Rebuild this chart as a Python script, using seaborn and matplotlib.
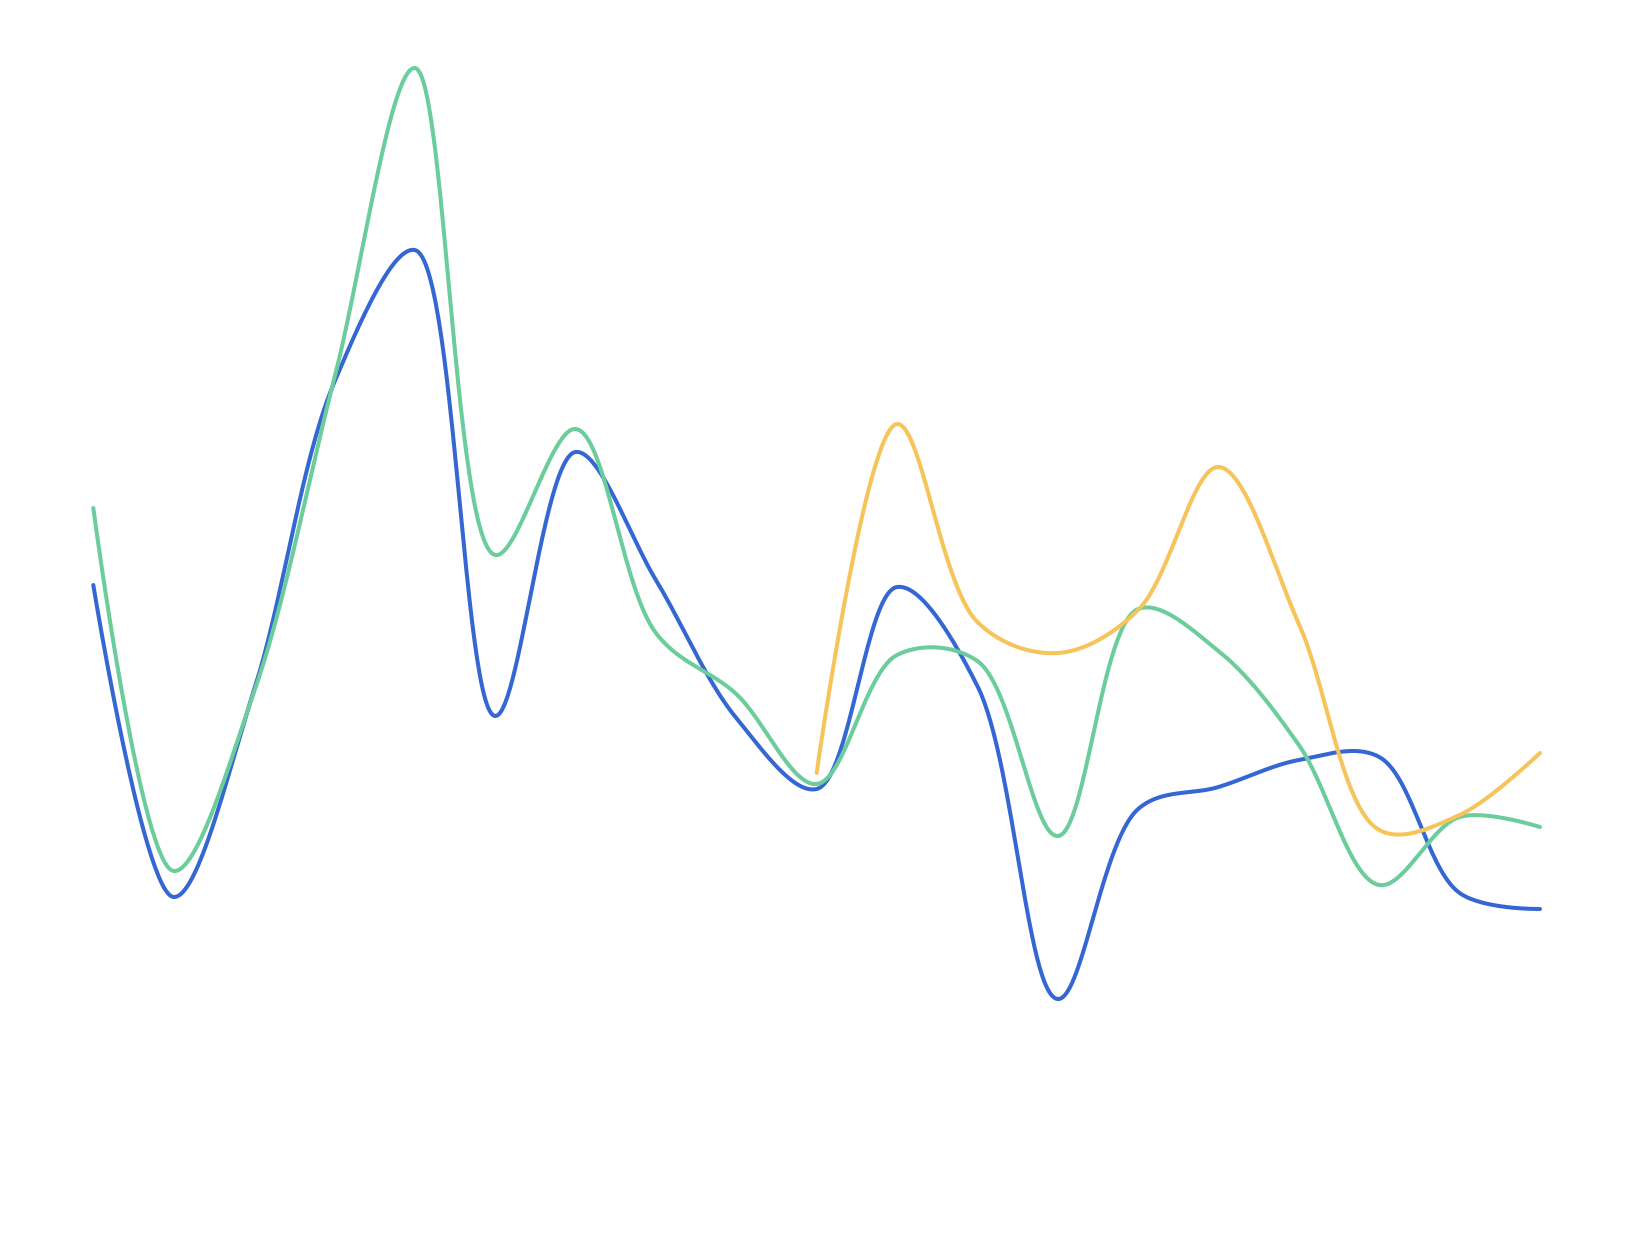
import numpy as np
import pandas as pd
import matplotlib
matplotlib.use('Agg')
import matplotlib.pyplot as plt
import seaborn as sns

# ==========================================
# DATA
# ==========================================
x_idx = list(range(19))

blue_vals = [67.0, 35.8, 56.5, 87.3, 100.5, 53.9, 80.3, 67.5, 53.7, 46.6,
             66.8, 56.9, 25.6, 44.6, 46.8, 49.5, 49.8, 36.2, 34.6]
green_vals = [74.7, 38.4, 56.3, 87.7, 118.7, 70.0, 82.6, 62.2, 56.1, 47.1,
              60.0, 59.4, 41.9, 64.6, 60.4, 51.0, 37.0, 43.8, 42.8]
orange_vals = [None] * 9 + [48.2, 83.1, 63.3, 60.2, 64.5, 78.8, 63.1, 42.5, 44.0, 50.2]

series = [
    ('Series A', blue_vals, '#3567d3'),
    ('Series B', green_vals, '#6acd9b'),
    ('Series C', orange_vals, '#f6c45a'),
]

# ==========================================
# SMOOTH CURVE (centripetal Catmull-Rom, in pixel space)
# ==========================================
def catmull_rom(px, py, alpha=0.5, n_samp=60):
    pts = np.column_stack([px, py])
    n = len(pts)
    t = np.linspace(0, 1, n_samp)[1:, None]
    out = [pts[:1]]
    for i in range(n - 1):
        p1, p2 = pts[i], pts[i + 1]
        l12 = np.hypot(*(p2 - p1))
        l12_2a = l12 ** (2 * alpha)
        l12_a = np.sqrt(l12_2a)
        c1 = p1.copy()
        if i > 0:
            p0 = pts[i - 1]
            l01_2a = np.hypot(*(p1 - p0)) ** (2 * alpha)
            l01_a = np.sqrt(l01_2a)
            a = 2 * l01_2a + 3 * l01_a * l12_a + l12_2a
            nn = 3 * l01_a * (l01_a + l12_a)
            c1 = (p1 * a - p0 * l12_2a + p2 * l01_2a) / nn
        c2 = p2.copy()
        if i < n - 2:
            p3 = pts[i + 2]
            l23_2a = np.hypot(*(p3 - p2)) ** (2 * alpha)
            l23_a = np.sqrt(l23_2a)
            b = 2 * l23_2a + 3 * l23_a * l12_a + l12_2a
            m = 3 * l23_a * (l23_a + l12_a)
            c2 = (p2 * b + p1 * l23_2a - p3 * l12_2a) / m
        seg = ((1 - t) ** 3) * p1 + 3 * ((1 - t) ** 2) * t * c1 + 3 * (1 - t) * t ** 2 * c2 + t ** 3 * p2
        out.append(seg)
    out = np.vstack(out)
    return out[:, 0], out[:, 1]


# ==========================================
# FIGURE
# ==========================================
sns.set_theme(style='white')
fig = plt.figure(figsize=(16.34, 12.55), dpi=100)
ax = fig.add_axes([0, 0, 1, 1])

step = 1446.7 / 18
x0 = 93.3 / step
xlim = (-x0, 1634 / step - x0)
ylim = (0, 125.5)
ax.set_xlim(*xlim)
ax.set_ylim(*ylim)

for name, vals, color in series:
    df = pd.DataFrame({'x': x_idx, 'y': vals}).dropna()
    disp = ax.transData.transform(df[['x', 'y']].to_numpy(dtype=float))
    sx, sy = catmull_rom(disp[:, 0], disp[:, 1])
    curve = ax.transData.inverted().transform(np.column_stack([sx, sy]))
    cdf = pd.DataFrame({'x': curve[:, 0], 'y': curve[:, 1]})
    sns.lineplot(data=cdf, x='x', y='y', ax=ax, sort=False, estimator=None,
                 color=color, linewidth=2.9, solid_capstyle='round', legend=False)

ax.set_xlim(*xlim)
ax.set_ylim(*ylim)
ax.set_axis_off()
fig.savefig('out.png', dpi=100, facecolor='white')
